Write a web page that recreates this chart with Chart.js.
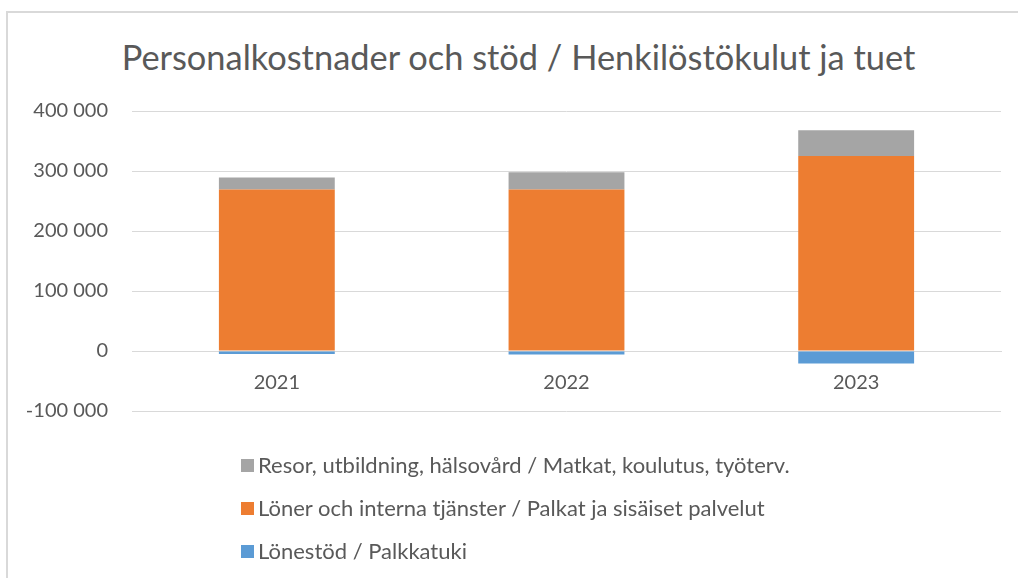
<!DOCTYPE html>
<html>
<head>
<meta charset="utf-8">
<script src="https://cdn.jsdelivr.net/npm/chart.js@4/dist/chart.umd.min.js"></script>
<style>
  body { margin: 0; background: #fff; overflow: hidden; font-family: Lato, "Open Sans", sans-serif; }
  #frame { position: absolute; left: 6px; top: 11px; width: 1100px; height: 700px; border: 2px solid #d9d9d9; }
  #wrap { position: absolute; left: 0; top: 0; width: 1018px; height: 578px; }
  #title { position: absolute; left: 7px; top: 37px; width: 1023px; text-align: center; color: #595959; font-size: 34.4px; line-height: 40px; white-space: nowrap; }
  #legend { position: absolute; left: 241px; top: 451px; color: #595959; font-size: 22px; line-height: 27px; }
  #legend div { height: 43px; display: flex; align-items: flex-start; }
  #legend span.box { display: inline-block; width: 13px; height: 13px; margin-right: 4px; margin-top: 8px; }
</style>
</head>
<body>
<div id="frame"></div>
<div id="title">Personalkostnader och stöd / Henkilöstökulut ja tuet</div>
<div id="wrap"><canvas id="myChart" width="1018" height="578"></canvas></div>
<div id="legend"></div>
<script>
const categories = ["2021", "2022", "2023"];

// stacked from bottom up
const lonestod = [-5000, -6000, -21000];
const loner = [269000, 269000, 325000];
const resor = [20000, 29000, 43000];

const yTicks = [-100000, 0, 100000, 200000, 300000, 400000];

const seriesNames = [
  "Lönestöd / Palkkatuki",
  "Löner och interna tjänster / Palkat ja sisäiset palvelut",
  "Resor, utbildning, hälsovård / Matkat, koulutus, työterv."
];
const seriesColors = ["#5b9bd5", "#ed7d31", "#a5a5a5"];

const textColor = "#595959";
const gridColor = "#d9d9d9";
const fontFamily = "Lato, 'Open Sans', sans-serif";

const formatNumber = (v) => {
  const s = Math.abs(v).toString().replace(/\B(?=(\d{3})+(?!\d))/g, " ");
  return (v < 0 ? "-" : "") + s;
};

const initChart = () => {
  const ctx = document.getElementById("myChart").getContext("2d");
  const values = [lonestod, loner, resor];

  const chart = new Chart(ctx, {
    type: "bar",
    data: {
      labels: categories,
      datasets: values.map((data, i) => ({
        label: seriesNames[i],
        data: data,
        backgroundColor: seriesColors[i],
        borderWidth: 0,
        categoryPercentage: 1,
        barPercentage: 0.4,
      })),
    },
    options: {
      responsive: false,
      animation: false,
      devicePixelRatio: 1,
      layout: { padding: { top: 111, bottom: 167, right: 17, left: 0 } },
      plugins: {
        legend: { display: false },
        tooltip: { enabled: false },
        title: { display: false },
      },
      scales: {
        x: {
          stacked: true,
          position: { y: 0 },
          z: 1,
          grid: { display: false, drawTicks: false },
          border: { display: true, color: gridColor, width: 1 },
          ticks: {
            color: textColor,
            padding: 20,
            font: { family: fontFamily, size: 20 },
          },
        },
        y: {
          stacked: true,
          min: -100000,
          max: 400000,
          afterBuildTicks: (scale) => {
            scale.ticks = yTicks.map((v) => ({ value: v }));
          },
          afterFit: (scale) => {
            scale.width = 132;
          },
          grid: { color: gridColor, drawTicks: false },
          border: { display: false },
          ticks: {
            color: textColor,
            padding: 24,
            font: { family: fontFamily, size: 20 },
            callback: (v) => formatNumber(v),
          },
        },
      },
    },
  });

  // vertical legend, top series first
  const legend = document.getElementById("legend");
  chart.data.datasets.slice().reverse().forEach((ds) => {
    const row = document.createElement("div");
    const box = document.createElement("span");
    box.className = "box";
    box.style.background = ds.backgroundColor;
    row.appendChild(box);
    row.appendChild(document.createTextNode(ds.label));
    legend.appendChild(row);
  });
};

document.addEventListener("DOMContentLoaded", initChart);
</script>
</body>
</html>
